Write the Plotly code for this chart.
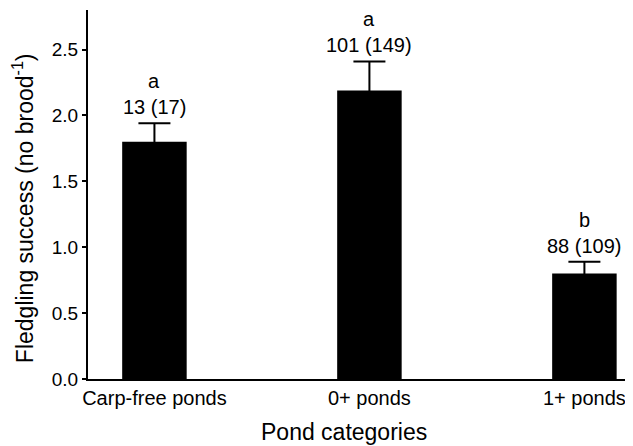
import plotly.graph_objects as go

categories = ["Carp-free ponds", "0+ ponds", "1+ ponds"]
means = [1.80, 2.19, 0.80]
errors = [0.14, 0.22, 0.09]
letters = ["a", "a", "b"]
n_labels = ["13 (17)", "101 (149)", "88 (109)"]
y_ticks = [0.0, 0.5, 1.0, 1.5, 2.0, 2.5]
y_tick_text = ["0.0", "0.5", "1.0", "1.5", "2.0", "2.5"]

FONT = "Arial, 'Liberation Sans', sans-serif"

fig = go.Figure()
fig.add_trace(go.Bar(
    x=list(range(len(categories))),
    y=means,
    width=0.30,
    marker=dict(color="black", line=dict(width=0)),
    error_y=dict(type="data", array=errors, color="black", thickness=2, width=16),
    showlegend=False,
    hoverinfo="skip",
))

annotations = []
for i, (m, e, lt, nl) in enumerate(zip(means, errors, letters, n_labels)):
    annotations.append(dict(x=i, y=m + e, xref="x", yref="y", text=nl,
                            showarrow=False, yanchor="middle", yshift=16,
                            font=dict(family=FONT, size=20, color="black")))
    annotations.append(dict(x=i, y=m + e, xref="x", yref="y", text=lt,
                            showarrow=False, yanchor="middle", yshift=42,
                            font=dict(family=FONT, size=20, color="black")))

annotations.append(dict(x=0, y=0.463, xref="paper", yref="paper",
                        text="Fledgling success (no brood<sup>-1</sup>)",
                        textangle=-90, showarrow=False, xanchor="center",
                        yanchor="middle", xshift=-65,
                        font=dict(family=FONT, size=23, color="black")))
annotations.append(dict(x=0.469, y=0, xref="paper", yref="paper",
                        text="Pond categories", showarrow=False,
                        xanchor="center", yanchor="middle", yshift=-53,
                        font=dict(family=FONT, size=23, color="black")))

fig.update_layout(
    width=625, height=438,
    margin=dict(l=80, r=0, t=2, b=67, autoexpand=False),
    paper_bgcolor="white", plot_bgcolor="white",
    font=dict(family=FONT, color="black"),
    annotations=annotations,
    xaxis=dict(range=[-0.309, 2.226], tickvals=list(range(len(categories))),
               ticktext=categories, showline=True, linecolor="black",
               linewidth=2, ticks="", showgrid=False, zeroline=False,
               tickfont=dict(family=FONT, size=20, color="black")),
    yaxis=dict(range=[0, 2.8], tickvals=y_ticks, ticktext=y_tick_text,
               showline=True, linecolor="black", linewidth=2, ticks="outside",
               ticklen=4, tickwidth=1.5, tickcolor="black", showgrid=False,
               zeroline=False,
               tickfont=dict(family=FONT, size=19, color="black")),
)

fig.write_html("out.html")
